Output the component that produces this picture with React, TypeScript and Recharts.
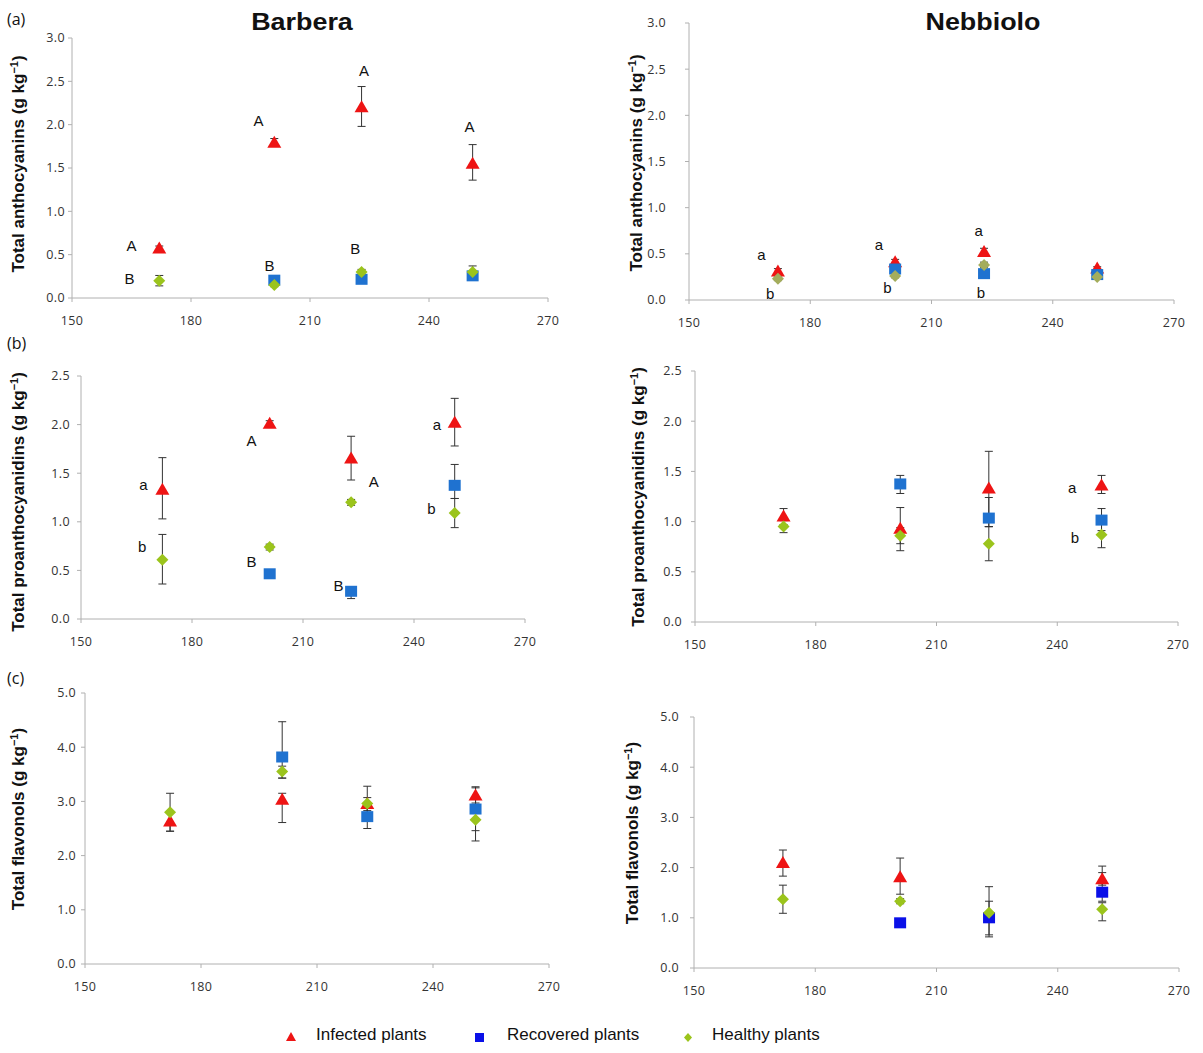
import React from 'react';
import { ScatterChart, Scatter, XAxis, YAxis, ErrorBar } from 'recharts';

type Point = { day: number; value: number; err: [number, number] };
type Note = { day: number; value: number; text: string };

// x axis: days
const DAY_TICKS = [150, 180, 210, 240, 270];
const ANTHO_TICKS = [0, 0.5, 1, 1.5, 2, 2.5, 3];
const PROANTHO_TICKS = [0, 0.5, 1, 1.5, 2, 2.5];
const FLAV_TICKS = [0, 1, 2, 3, 4, 5];

// (a) total anthocyanins
const barberaAnthoInfected: Point[] = [
  { day: 172, value: 0.57, err: [0.03, 0.03] },
  { day: 201, value: 1.79, err: [0.04, 0.05] },
  { day: 223, value: 2.2, err: [0.22, 0.24] },
  { day: 251, value: 1.55, err: [0.19, 0.22] },
];
const barberaAnthoRecovered: Point[] = [
  { day: 201, value: 0.2, err: [0.02, 0.02] },
  { day: 223, value: 0.21, err: [0.02, 0.02] },
  { day: 251, value: 0.25, err: [0.02, 0.02] },
];
const barberaAnthoHealthy: Point[] = [
  { day: 172, value: 0.2, err: [0.06, 0.06] },
  { day: 201, value: 0.15, err: [0.02, 0.02] },
  { day: 223, value: 0.3, err: [0.03, 0.03] },
  { day: 251, value: 0.3, err: [0.05, 0.07] },
];
const barberaAnthoNotes: Note[] = [
  { day: 165, value: 0.61, text: 'A' },
  { day: 164.5, value: 0.23, text: 'B' },
  { day: 197, value: 2.05, text: 'A' },
  { day: 199.8, value: 0.38, text: 'B' },
  { day: 223.6, value: 2.62, text: 'A' },
  { day: 221.4, value: 0.57, text: 'B' },
  { day: 250.2, value: 1.98, text: 'A' },
];

const nebbioloAnthoInfected: Point[] = [
  { day: 172, value: 0.31, err: [0.03, 0.03] },
  { day: 201, value: 0.41, err: [0.03, 0.03] },
  { day: 223, value: 0.52, err: [0.04, 0.04] },
  { day: 251, value: 0.34, err: [0.02, 0.02] },
];
const nebbioloAnthoRecovered: Point[] = [
  { day: 201, value: 0.33, err: [0.03, 0.03] },
  { day: 223, value: 0.28, err: [0.02, 0.02] },
  { day: 251, value: 0.27, err: [0.02, 0.02] },
];
const nebbioloAnthoHealthy: Point[] = [
  { day: 172, value: 0.23, err: [0.02, 0.02] },
  { day: 201, value: 0.26, err: [0.02, 0.02] },
  { day: 223, value: 0.38, err: [0.03, 0.03] },
  { day: 251, value: 0.25, err: [0.02, 0.02] },
];
const nebbioloAnthoNotes: Note[] = [
  { day: 167.9, value: 0.49, text: 'a' },
  { day: 170.1, value: 0.07, text: 'b' },
  { day: 197, value: 0.6, text: 'a' },
  { day: 199.1, value: 0.13, text: 'b' },
  { day: 221.7, value: 0.75, text: 'a' },
  { day: 222.2, value: 0.08, text: 'b' },
];

// (b) total proanthocyanidins
const barberaProInfected: Point[] = [
  { day: 172, value: 1.33, err: [0.3, 0.33] },
  { day: 201, value: 2.01, err: [0.03, 0.03] },
  { day: 223, value: 1.65, err: [0.22, 0.23] },
  { day: 251, value: 2.02, err: [0.24, 0.25] },
];
const barberaProRecovered: Point[] = [
  { day: 201, value: 0.46, err: [0.02, 0.02] },
  { day: 223, value: 0.28, err: [0.07, 0.05] },
  { day: 251, value: 1.37, err: [0.13, 0.22] },
];
const barberaProHealthy: Point[] = [
  { day: 172, value: 0.61, err: [0.25, 0.26] },
  { day: 201, value: 0.74, err: [0.03, 0.03] },
  { day: 223, value: 1.2, err: [0.03, 0.03] },
  { day: 251, value: 1.09, err: [0.15, 0.15] },
];
const barberaProNotes: Note[] = [
  { day: 166.9, value: 1.38, text: 'a' },
  { day: 166.5, value: 0.75, text: 'b' },
  { day: 196.1, value: 1.84, text: 'A' },
  { day: 196.1, value: 0.59, text: 'B' },
  { day: 219.6, value: 0.34, text: 'B' },
  { day: 229.1, value: 1.41, text: 'A' },
  { day: 246.2, value: 2.0, text: 'a' },
  { day: 244.7, value: 1.14, text: 'b' },
];

const nebbioloProInfected: Point[] = [
  { day: 172, value: 1.05, err: [0.08, 0.08] },
  { day: 201, value: 0.93, err: [0.22, 0.21] },
  { day: 223, value: 1.33, err: [0.38, 0.37] },
  { day: 251, value: 1.36, err: [0.08, 0.1] },
];
const nebbioloProRecovered: Point[] = [
  { day: 201, value: 1.37, err: [0.09, 0.09] },
  { day: 223, value: 1.03, err: [0.08, 0.21] },
  { day: 251, value: 1.01, err: [0.1, 0.12] },
];
const nebbioloProHealthy: Point[] = [
  { day: 172, value: 0.95, err: [0.06, 0.06] },
  { day: 201, value: 0.86, err: [0.08, 0.08] },
  { day: 223, value: 0.78, err: [0.17, 0.17] },
  { day: 251, value: 0.87, err: [0.13, 0.13] },
];
const nebbioloProNotes: Note[] = [
  { day: 243.7, value: 1.34, text: 'a' },
  { day: 244.4, value: 0.84, text: 'b' },
];

// (c) total flavonols
const barberaFlavInfected: Point[] = [
  { day: 172, value: 2.63, err: [0.18, 0.18] },
  { day: 201, value: 3.03, err: [0.42, 0.12] },
  { day: 223, value: 2.95, err: [0.12, 0.12] },
  { day: 251, value: 3.11, err: [0.14, 0.16] },
];
const barberaFlavRecovered: Point[] = [
  { day: 201, value: 3.81, err: [0.38, 0.66] },
  { day: 223, value: 2.71, err: [0.21, 0.21] },
  { day: 251, value: 2.85, err: [0.39, 0.4] },
];
const barberaFlavHealthy: Point[] = [
  { day: 172, value: 2.8, err: [0.35, 0.35] },
  { day: 201, value: 3.55, err: [0.12, 0.1] },
  { day: 223, value: 2.96, err: [0.29, 0.32] },
  { day: 251, value: 2.66, err: [0.39, 0.39] },
];

const nebbioloFlavInfected: Point[] = [
  { day: 172, value: 2.09, err: [0.26, 0.26] },
  { day: 201, value: 1.81, err: [0.34, 0.38] },
  { day: 251, value: 1.77, err: [0.12, 0.26] },
];
const nebbioloFlavRecovered: Point[] = [
  { day: 201, value: 0.89, err: [0.02, 0.02] },
  { day: 223, value: 0.99, err: [0.37, 0.34] },
  { day: 251, value: 1.5, err: [0.17, 0.4] },
];
const nebbioloFlavHealthy: Point[] = [
  { day: 172, value: 1.37, err: [0.28, 0.28] },
  { day: 201, value: 1.33, err: [0.05, 0.05] },
  { day: 223, value: 1.1, err: [0.44, 0.52] },
  { day: 251, value: 1.17, err: [0.23, 0.13] },
];

const RED = '#ee1414';
const BLUE = '#1f72d0';
const PURE_BLUE = '#0a10e8';
const GREEN = '#9bc41c';
const AXIS = '#b0b0b0';

const triangle = (color: string) => (p: any) =>
  p.cx == null ? <g /> : (
    <polygon
      points={`${p.cx},${p.cy - 7} ${p.cx + 7},${p.cy + 5} ${p.cx - 7},${p.cy + 5}`}
      fill={color}
    />
  );
const square = (color: string) => (p: any) =>
  p.cx == null ? <g /> : (
    <rect x={p.cx - 6} y={p.cy - 6} width={12} height={11} fill={color} />
  );
const diamond = (color: string) => (p: any) =>
  p.cx == null ? <g /> : (
    <polygon
      points={`${p.cx},${p.cy - 6} ${p.cx + 6},${p.cy} ${p.cx},${p.cy + 6} ${p.cx - 6},${p.cy}`}
      fill={color}
    />
  );
const noteShape = (p: any) =>
  p.cx == null ? <g /> : (
    <text
      x={p.cx}
      y={p.cy}
      textAnchor="middle"
      dominantBaseline="central"
      fontSize={15}
      fontFamily="'Liberation Sans', Arial, sans-serif"
      fill="#111"
    >
      {p.payload.text}
    </text>
  );

const PANELS = [
  {
    id: 'aB', x0: 72, x1: 548, yT: 38, yB: 298, yMax: 3, ticks: ANTHO_TICKS, tm: 3,
    label: 'Total anthocyanins', lx: 18, ly: 164,
    infected: barberaAnthoInfected, recovered: barberaAnthoRecovered, healthy: barberaAnthoHealthy,
    notes: barberaAnthoNotes, blue: BLUE, green: GREEN,
  },
  {
    id: 'aN', x0: 689, x1: 1174, yT: 23, yB: 300, yMax: 3, ticks: ANTHO_TICKS, tm: 19,
    label: 'Total anthocyanins', lx: 636, ly: 163,
    infected: nebbioloAnthoInfected, recovered: nebbioloAnthoRecovered, healthy: nebbioloAnthoHealthy,
    notes: nebbioloAnthoNotes, blue: BLUE, green: '#a4ad5c',
  },
  {
    id: 'bB', x0: 81, x1: 525, yT: 376, yB: 619, yMax: 2.5, ticks: PROANTHO_TICKS, tm: 7,
    label: 'Total proanthocyanidins', lx: 18, ly: 502,
    infected: barberaProInfected, recovered: barberaProRecovered, healthy: barberaProHealthy,
    notes: barberaProNotes, blue: BLUE, green: GREEN,
  },
  {
    id: 'bN', x0: 695, x1: 1178, yT: 371, yB: 622, yMax: 2.5, ticks: PROANTHO_TICKS, tm: 9,
    label: 'Total proanthocyanidins', lx: 638, ly: 497,
    infected: nebbioloProInfected, recovered: nebbioloProRecovered, healthy: nebbioloProHealthy,
    notes: nebbioloProNotes, blue: BLUE, green: GREEN,
  },
  {
    id: 'cB', x0: 85, x1: 549, yT: 693, yB: 964, yMax: 5, ticks: FLAV_TICKS, tm: 5,
    label: 'Total flavonols', lx: 18, ly: 819,
    infected: barberaFlavInfected, recovered: barberaFlavRecovered, healthy: barberaFlavHealthy,
    notes: [] as Note[], blue: BLUE, green: GREEN,
  },
  {
    id: 'cN', x0: 694, x1: 1179, yT: 717, yB: 968, yMax: 5, ticks: FLAV_TICKS, tm: 11,
    label: 'Total flavonols', lx: 632, ly: 833,
    infected: nebbioloFlavInfected, recovered: nebbioloFlavRecovered, healthy: nebbioloFlavHealthy,
    notes: [] as Note[], blue: PURE_BLUE, green: GREEN,
  },
];

const Y_W = 60;
const M_TOP = 10;
const M_RIGHT = 30;
const X_H = 40;

const tickStyle = {
  fill: '#333',
  fontSize: 12.5,
  fontFamily: "'Open Sans', sans-serif",
  letterSpacing: 0.4,
};

function Panel({ p }: { p: (typeof PANELS)[number] }) {
  const width = p.x1 - p.x0 + Y_W + M_RIGHT;
  const height = p.yB - p.yT + M_TOP + X_H;
  const bar = (
    <ErrorBar dataKey="err" direction="y" width={4} stroke="#333" strokeWidth={1} />
  );
  return (
    <>
      <div style={{ position: 'absolute', left: p.x0 - Y_W, top: p.yT - M_TOP }}>
        <ScatterChart
          width={width}
          height={height}
          margin={{ top: M_TOP, right: M_RIGHT, bottom: 0, left: 0 }}
        >
          <XAxis
            dataKey="day"
            type="number"
            domain={[150, 270]}
            ticks={DAY_TICKS}
            height={X_H}
            tickSize={4}
            tickMargin={14}
            axisLine={{ stroke: AXIS }}
            tickLine={{ stroke: AXIS }}
            tick={tickStyle}
          />
          <YAxis
            dataKey="value"
            type="number"
            domain={[0, p.yMax]}
            ticks={p.ticks}
            width={Y_W}
            tickSize={4}
            tickMargin={p.tm}
            axisLine={{ stroke: AXIS }}
            tickLine={{ stroke: AXIS }}
            tick={tickStyle}
            tickFormatter={(v: number) => v.toFixed(1)}
          />
          <Scatter data={p.infected} shape={triangle(RED)} isAnimationActive={false}>
            {bar}
          </Scatter>
          <Scatter data={p.recovered} shape={square(p.blue)} isAnimationActive={false}>
            {bar}
          </Scatter>
          <Scatter data={p.healthy} shape={diamond(p.green)} isAnimationActive={false}>
            {bar}
          </Scatter>
          <Scatter data={p.notes} shape={noteShape} isAnimationActive={false} />
        </ScatterChart>
      </div>
      <div
        style={{
          position: 'absolute',
          left: p.lx,
          top: p.ly,
          transform: 'translate(-50%, -50%) rotate(-90deg)',
          whiteSpace: 'nowrap',
          fontFamily: "'Liberation Sans', Arial, sans-serif",
          fontWeight: 'bold',
          fontSize: 17,
          color: '#111',
        }}
      >
        {p.label} (g kg<sup style={{ fontSize: 11, verticalAlign: 6 }}>−1</sup>)
      </div>
    </>
  );
}

const textBase: React.CSSProperties = {
  position: 'absolute',
  whiteSpace: 'nowrap',
  color: '#111',
  fontFamily: "'Liberation Sans', Arial, sans-serif",
};

export default function App() {
  return (
    <div
      style={{
        position: 'absolute',
        left: 0,
        top: 0,
        width: 1203,
        height: 1053,
        background: '#fff',
        overflow: 'hidden',
      }}
    >
      {PANELS.map((p) => (
        <Panel key={p.id} p={p} />
      ))}

      <div style={{ ...textBase, left: 302, top: 22, fontSize: 24, fontWeight: 'bold', transform: 'translate(-50%, -50%) scaleX(1.12)' }}>
        Barbera
      </div>
      <div style={{ ...textBase, left: 983, top: 22, fontSize: 24, fontWeight: 'bold', transform: 'translate(-50%, -50%) scaleX(1.12)' }}>
        Nebbiolo
      </div>

      {[
        { t: '(a)', y: 19 },
        { t: '(b)', y: 343 },
        { t: '(c)', y: 678 },
      ].map((l) => (
        <div
          key={l.t}
          style={{ ...textBase, left: 7, top: l.y, fontSize: 16, fontFamily: "'Open Sans', sans-serif", transform: 'translateY(-50%)' }}
        >
          {l.t}
        </div>
      ))}

      {/* shared legend */}
      <svg style={{ position: 'absolute', left: 0, top: 1020 }} width={1203} height={33}>
        <polygon points="291,12 296,21 286,21" fill={RED} />
        <rect x={475} y={13} width={9} height={9} fill={PURE_BLUE} />
        <polygon points="688,13 692,17.5 688,22 684,17.5" fill={GREEN} />
      </svg>
      <div style={{ ...textBase, left: 316, top: 1035, fontSize: 17, transform: 'translateY(-50%)' }}>Infected plants</div>
      <div style={{ ...textBase, left: 507, top: 1035, fontSize: 17, transform: 'translateY(-50%)' }}>Recovered plants</div>
      <div style={{ ...textBase, left: 712, top: 1035, fontSize: 17, transform: 'translateY(-50%)' }}>Healthy plants</div>
    </div>
  );
}
